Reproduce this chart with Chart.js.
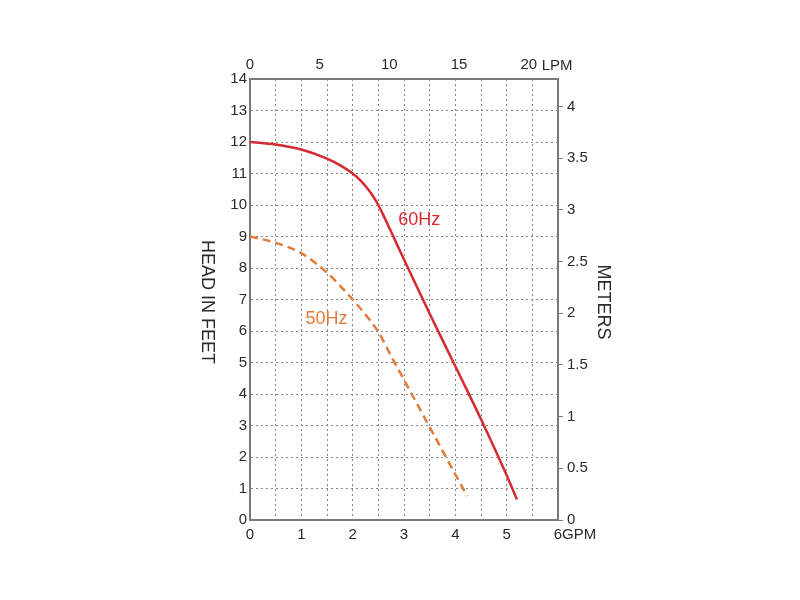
<!DOCTYPE html>
<html lang="en">
  <head>
    <meta charset="UTF-8" />
    <title>Pump curve</title>
    <script src="https://cdn.jsdelivr.net/npm/chart.js"></script>
    <style>
      body { margin: 0; background: #fff; }
      .chart-box { width: 800px; height: 600px; }
    </style>
  </head>
  <body>
    <div class="chart-box">
      <canvas id="myChart" width="800" height="600"></canvas>
    </div>
    <script>
      // flow in GPM, head in feet
      const flow60 = [0, 0.5, 1, 1.5, 1.8, 2, 2.15, 2.3, 2.4, 2.5, 2.62, 2.75, 3, 3.5, 4, 4.5, 5, 5.2];
      const head60 = [12, 11.92, 11.76, 11.47, 11.22, 11.0, 10.78, 10.5, 10.27, 10.0, 9.6, 9.15, 8.27, 6.55, 4.88, 3.2, 1.42, 0.65];
      const flow50 = [0, 0.5, 1, 1.5, 2, 2.25, 2.5, 2.75, 3, 3.5, 4, 4.23];
      const head50 = [9, 8.8, 8.47, 7.85, 7.0, 6.52, 5.97, 5.2, 4.45, 2.95, 1.45, 0.76];
      const gpmMax = 6;
      const feetMax = 14;
      const lpmMax = 22.1;
      const meterMax = 14 / 3.281;
      const lpmTicks = [0, 5, 10, 15, 20];
      const meterTicks = [0, 0.5, 1, 1.5, 2, 2.5, 3, 3.5, 4];

      const red = "#d52a31";
      const orange = "#e07b3a";
      const grey = "#7a7a7a";
      const textColor = "#2a2a2a";
      const font = { family: "Liberation Sans, Arial, sans-serif", size: 15 };

      const toPoints = (xs, ys) => xs.map((x, i) => ({ x: x, y: ys[i] }));

      // extra texts: axis titles, units, curve names
      const extraText = {
        id: "extraText",
        afterDraw(chart) {
          const c = chart.ctx;
          const a = chart.chartArea;
          const sx = chart.scales.x;
          const sy = chart.scales.y;
          c.save();
          c.fillStyle = textColor;
          c.font = "18px Liberation Sans, Arial, sans-serif";
          c.textAlign = "center";
          c.textBaseline = "middle";
          c.save();
          c.translate(207, 302);
          c.rotate(Math.PI / 2);
          c.fillText("HEAD IN FEET", 0, 0);
          c.restore();
          c.save();
          c.translate(603, 302);
          c.rotate(Math.PI / 2);
          c.fillText("METERS", 0, 0);
          c.restore();

          c.font = "15px Liberation Sans, Arial, sans-serif";
          c.textAlign = "left";
          c.fillText("GPM", sx.getPixelForValue(6) + 4, a.bottom + 15);
          const x2 = chart.scales.x2;
          c.fillText("LPM", x2.getPixelForValue(20) + 13, a.top - 13);

          c.font = "18px Liberation Sans, Arial, sans-serif";
          c.fillStyle = red;
          c.fillText("60Hz", sx.getPixelForValue(2.89), sy.getPixelForValue(9.52));
          c.fillStyle = orange;
          c.fillText("50Hz", sx.getPixelForValue(1.08), sy.getPixelForValue(6.38));
          c.restore();
        },
      };

      const ctx = document.getElementById("myChart");
      const myChart = new Chart(ctx, {
        type: "scatter",
        data: {
          datasets: [
            {
              label: "60Hz",
              data: toPoints(flow60, head60),
              showLine: true,
              borderColor: red,
              borderWidth: 2.5,
              pointRadius: 0,
              cubicInterpolationMode: "monotone",
            },
            {
              label: "50Hz",
              data: toPoints(flow50, head50),
              showLine: true,
              borderColor: orange,
              borderWidth: 2.5,
              borderDash: [8, 5],
              pointRadius: 0,
              cubicInterpolationMode: "monotone",
            },
          ],
        },
        options: {
          responsive: false,
          animation: false,
          layout: { padding: 0 },
          plugins: {
            legend: { display: false },
            tooltip: { enabled: false },
          },
          scales: {
            x: {
              type: "linear",
              position: "bottom",
              min: 0,
              max: gpmMax,
              afterFit: (s) => { s.height = 80; },
              ticks: {
                stepSize: 0.5,
                padding: 6,
                maxRotation: 0,
                color: textColor,
                font: font,
                callback: (v) => (Number.isInteger(v) ? String(v) : ""),
              },
              grid: {
                color: (c) => (c.tick.value === 0 || c.tick.value === gpmMax ? "rgba(0,0,0,0)" : "#858585"),
                lineWidth: 1,
                drawTicks: false,
              },
              border: { color: grey, width: 2, dash: [2, 3] },
            },
            x2: {
              type: "linear",
              position: "top",
              min: 0,
              max: lpmMax,
              afterFit: (s) => { s.height = 79; },
              afterBuildTicks: (s) => { s.ticks = lpmTicks.map((v) => ({ value: v })); },
              ticks: {
                padding: 5,
                maxRotation: 0,
                color: textColor,
                font: font,
                callback: (v) => String(v),
              },
              grid: { drawOnChartArea: false, drawTicks: false },
              border: { color: grey, width: 2 },
            },
            y: {
              type: "linear",
              position: "left",
              min: 0,
              max: feetMax,
              afterFit: (s) => { s.width = 250; },
              ticks: {
                stepSize: 1,
                padding: 3,
                color: textColor,
                font: font,
              },
              grid: {
                color: (c) => (c.tick.value === 0 || c.tick.value === feetMax ? "rgba(0,0,0,0)" : "#858585"),
                lineWidth: 1,
                drawTicks: false,
              },
              border: { color: grey, width: 2, dash: [2, 3] },
            },
            y2: {
              type: "linear",
              position: "right",
              min: 0,
              max: meterMax,
              afterFit: (s) => { s.width = 242; },
              afterBuildTicks: (s) => { s.ticks = meterTicks.map((v) => ({ value: v })); },
              ticks: {
                padding: 4,
                color: textColor,
                font: font,
                callback: (v) => String(v),
              },
              grid: {
                drawOnChartArea: false,
                drawTicks: true,
                tickLength: 5,
                color: grey,
              },
              border: { color: grey, width: 2 },
            },
          },
        },
        plugins: [extraText],
      });
    </script>
  </body>
</html>
